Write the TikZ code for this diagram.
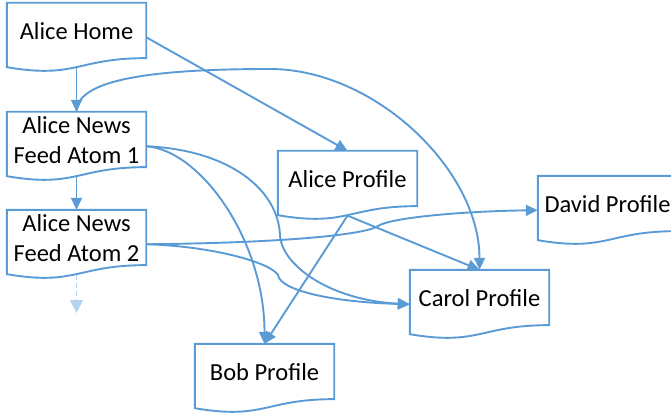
\documentclass[tikz,border=0pt]{standalone}
\usepackage{fontspec}
\setmainfont{Carlito}
\usetikzlibrary{arrows.meta,calc}
\definecolor{acc}{HTML}{5B9BD5}
\definecolor{accl}{HTML}{B5D2EE}
\begin{document}
\begin{tikzpicture}[x=1pt,y=-1pt,
  docbox/.style={rectangle, minimum width=139pt, minimum height=68.5pt, inner sep=0pt},
  txt/.style={font=\fontsize{24.5}{29.5}\selectfont, align=center, text=black, inner sep=0pt},
  outline/.style={draw=acc, line width=1.9pt, line join=miter},
  conn/.style={draw=acc, line width=1.9pt, -{Triangle[length=12pt,width=11pt]}},
  fadeconn/.style={draw=accl, line width=1.9pt, dash pattern=on 5pt off 3pt, -{Triangle[length=13pt,width=13pt]}}
]
\clip (0,0) rectangle (671,414);
% document boxes
\node[docbox, label={[txt,yshift=6.3pt]center:Alice Home}] (home) at (76.5,37.25) {};
\node[docbox, label={[txt,yshift=6.3pt]center:{Alice News\\Feed Atom 1}}] (a1) at (76.5,146.25) {};
\node[docbox, label={[txt,yshift=6.3pt]center:{Alice News\\Feed Atom 2}}] (a2) at (76.5,244.25) {};
\node[docbox, label={[txt,yshift=6.3pt]center:Alice Profile}] (ap) at (347.5,185.25) {};
\node[docbox, label={[txt,yshift=6.3pt]center:Bob Profile}] (bob) at (264.5,378.25) {};
\node[docbox, label={[txt,yshift=6.3pt]center:Carol Profile}] (carol) at (479.5,304.25) {};
\node[docbox, label={[txt,yshift=6.3pt]center:David Profile}] (david) at (607.5,210.25) {};
\foreach \n in {home,a1,a2,ap,bob,carol,david}
  \draw[outline] (\n.north west) -- (\n.north east) -- ([yshift=13.56pt]\n.south east)
    .. controls ([yshift=13.56pt]\n.south) and ([yshift=-7.36pt]\n.south) .. ([yshift=4.52pt]\n.south west) -- cycle;
% helper coordinates
\coordinate (more) at (76.5,313);
\coordinate (c1m) at (270,69);
\coordinate (c3m) at (280,235);
\coordinate (c4m) at (378,226);
\coordinate (c5m) at (278,275);
% connectors
\draw[conn] ([yshift=4.06pt]home.south) -- (a1.north);
\draw[conn] ([yshift=4.06pt]a1.south) -- (a2.north);
\draw[fadeconn] ([yshift=4.06pt]a2.south) -- (more);
\draw[conn] (home.east) -- (ap.north);
\draw[conn] (a1.north) .. controls +(0,-32) and +(-120,0) .. (c1m)
  .. controls +(104.5,0) and +(0,-100) .. (carol.north);
\draw[conn] (a1.east) .. controls +(54,3.75) and +(0,-104) .. (bob.north);
\draw[conn] (a1.east) .. controls +(84,3.75) and +(-2,-45) .. (c3m)
  .. controls +(1.3,30) and +(-80,-4) .. (carol.west);
\draw[conn] (a2.east) .. controls +(134,-1.25) and +(-13,9) .. (c4m)
  .. controls +(14,-9) and +(-68,0.75) .. (david.west);
\draw[conn] (a2.east) .. controls +(64,1.75) and +(-8,-13) .. (c5m)
  .. controls +(2,15) and +(-80,-2.25) .. (carol.west);
\draw[conn] ([yshift=4.06pt]ap.south) -- (bob.north);
\draw[conn] ([yshift=4.06pt]ap.south) -- (carol.north);
\end{tikzpicture}
\end{document}
